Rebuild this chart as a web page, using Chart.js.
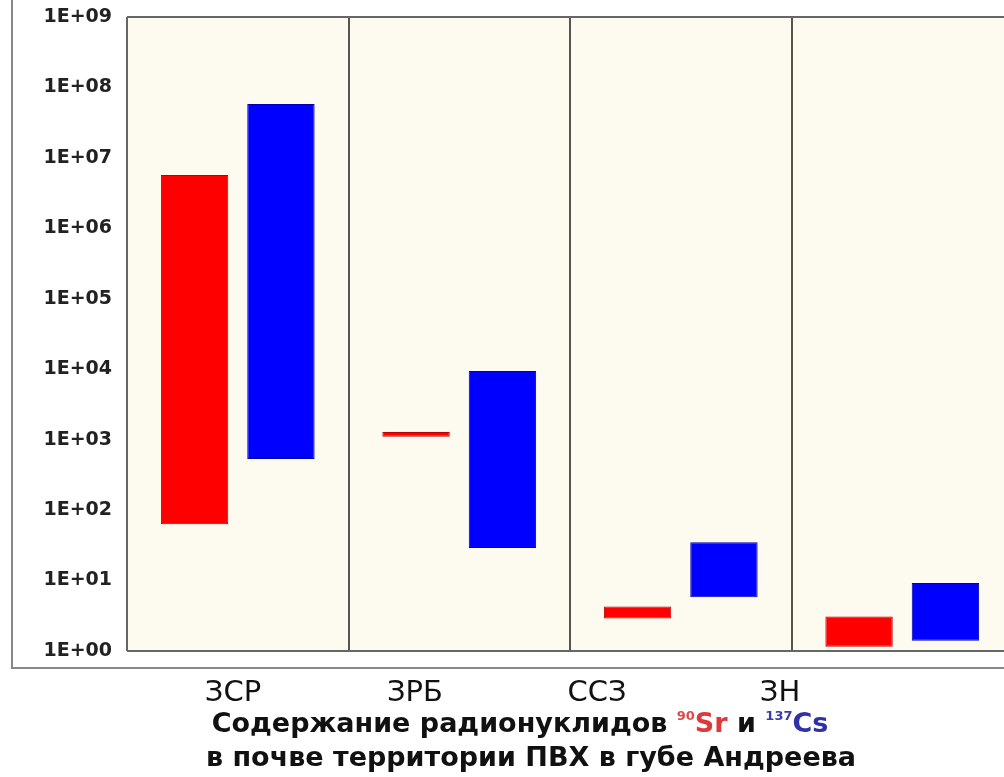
<!DOCTYPE html>
<html>
<head>
<meta charset="utf-8">
<script src="https://cdn.jsdelivr.net/npm/chart.js@4/dist/chart.umd.min.js"></script>
<style>
  html, body { margin: 0; padding: 0; background: #fff; }
  #wrap { width: 1004px; height: 777px; overflow: hidden; }
</style>
</head>
<body>
<div id="wrap"><canvas id="chart" width="1020" height="777"></canvas></div>
<script>
// Площадки
const categories = ['ЗСР', 'ЗРБ', 'ССЗ', 'ЗН'];

// 90Sr: мин / макс
const srLow  = [63, 1100, 2.9, 1.15];
const srHigh = [5.7e6, 1280, 4.3, 3.1];

// 137Cs: мин / макс
const csLow  = [530, 29, 5.8, 1.4];
const csHigh = [5.8e7, 9400, 35, 9.2];

// Шкала Y
const yTickValues = [1, 10, 100, 1e3, 1e4, 1e5, 1e6, 1e7, 1e8, 1e9];
const yTickLabels = ['1E+00', '1E+01', '1E+02', '1E+03', '1E+04', '1E+05', '1E+06', '1E+07', '1E+08', '1E+09'];

// подписи площадок под графиком (в оригинале сдвинуты влево)
const labelX = [233, 415, 597, 780];

const framePlugin = {
    id: 'frame',
    beforeDraw(chart) {
        const { ctx, chartArea: a } = chart;
        ctx.save();
        ctx.fillStyle = '#fdfaf0';
        ctx.fillRect(a.left, a.top, a.right - a.left, a.bottom - a.top);
        ctx.restore();
    },
    afterDraw(chart) {
        const { ctx, chartArea: a } = chart;
        ctx.save();
        // рамка области построения
        ctx.strokeStyle = '#666';
        ctx.lineWidth = 2;
        ctx.beginPath();
        ctx.moveTo(a.left, a.top); ctx.lineTo(a.right, a.top);
        ctx.moveTo(a.left, a.bottom); ctx.lineTo(a.right, a.bottom);
        ctx.moveTo(a.left, a.top); ctx.lineTo(a.left, a.bottom);
        ctx.stroke();

        // внешняя рамка
        ctx.strokeStyle = '#888';
        ctx.beginPath();
        ctx.moveTo(12, 0); ctx.lineTo(12, 668); ctx.lineTo(1020, 668);
        ctx.stroke();

        // подписи площадок
        ctx.fillStyle = '#111';
        ctx.font = '29px "DejaVu Sans"';
        ctx.textAlign = 'center';
        ctx.textBaseline = 'alphabetic';
        categories.forEach((c, i) => ctx.fillText(c, labelX[i], 701));

        // заголовок
        const big = 'bold 27px "DejaVu Sans"';
        const small = 'bold 13px "DejaVu Sans"';
        const parts = [
            { t: 'Содержание радионуклидов ', f: big, c: '#111', dy: 0 },
            { t: '90', f: small, c: '#e04848', dy: -12 },
            { t: 'Sr', f: big, c: '#e03838', dy: 0 },
            { t: ' и ', f: big, c: '#111', dy: 0 },
            { t: '137', f: small, c: '#3a3aa8', dy: -12 },
            { t: 'Cs', f: big, c: '#3030a8', dy: 0 }
        ];
        let total = 0;
        parts.forEach(p => { ctx.font = p.f; p.w = ctx.measureText(p.t).width; total += p.w; });
        let x = 520 - total / 2;
        ctx.textAlign = 'left';
        parts.forEach(p => {
            ctx.font = p.f;
            ctx.fillStyle = p.c;
            ctx.fillText(p.t, x, 732 + p.dy);
            x += p.w;
        });
        ctx.font = big;
        ctx.fillStyle = '#111';
        ctx.textAlign = 'center';
        ctx.fillText('в почве территории ПВХ в губе Андреева', 531, 766);
        ctx.restore();
    }
};

new Chart(document.getElementById('chart'), {
    type: 'bar',
    data: {
        labels: categories,
        datasets: [
            {
                label: '90Sr',
                data: srLow.map((v, i) => [v, srHigh[i]]),
                backgroundColor: '#ff0000',
                borderColor: '#b80000',
                borderWidth: 1,
                borderSkipped: false
            },
            {
                label: '137Cs',
                data: csLow.map((v, i) => [v, csHigh[i]]),
                backgroundColor: '#0000ff',
                borderColor: '#0000b0',
                borderWidth: 1,
                borderSkipped: false
            }
        ]
    },
    options: {
        responsive: false,
        animation: false,
        categoryPercentage: 0.78,
        barPercentage: 0.78,
        layout: { padding: { left: 0, top: 17, right: 7, bottom: 126 } },
        plugins: {
            legend: { display: false },
            tooltip: { enabled: false },
            title: { display: false }
        },
        scales: {
            x: {
                grid: { offset: true, color: '#555', lineWidth: 2, drawTicks: false },
                ticks: { display: false },
                border: { display: false },
                afterFit(scale) { scale.height = 0; }
            },
            y: {
                type: 'logarithmic',
                min: 1,
                max: 1e9,
                grid: { display: false, drawTicks: false },
                border: { display: false },
                afterBuildTicks(scale) {
                    scale.ticks = yTickValues.map(v => ({ value: v }));
                },
                afterFit(scale) {
                    scale.width = 127;
                    scale.paddingTop = 0;
                    scale.paddingBottom = 0;
                },
                ticks: {
                    padding: 15,
                    color: '#222',
                    font: { family: 'DejaVu Sans', size: 19, weight: 'bold' },
                    callback: (v) => yTickLabels[yTickValues.indexOf(v)]
                }
            }
        }
    },
    plugins: [framePlugin]
});
</script>
</body>
</html>
